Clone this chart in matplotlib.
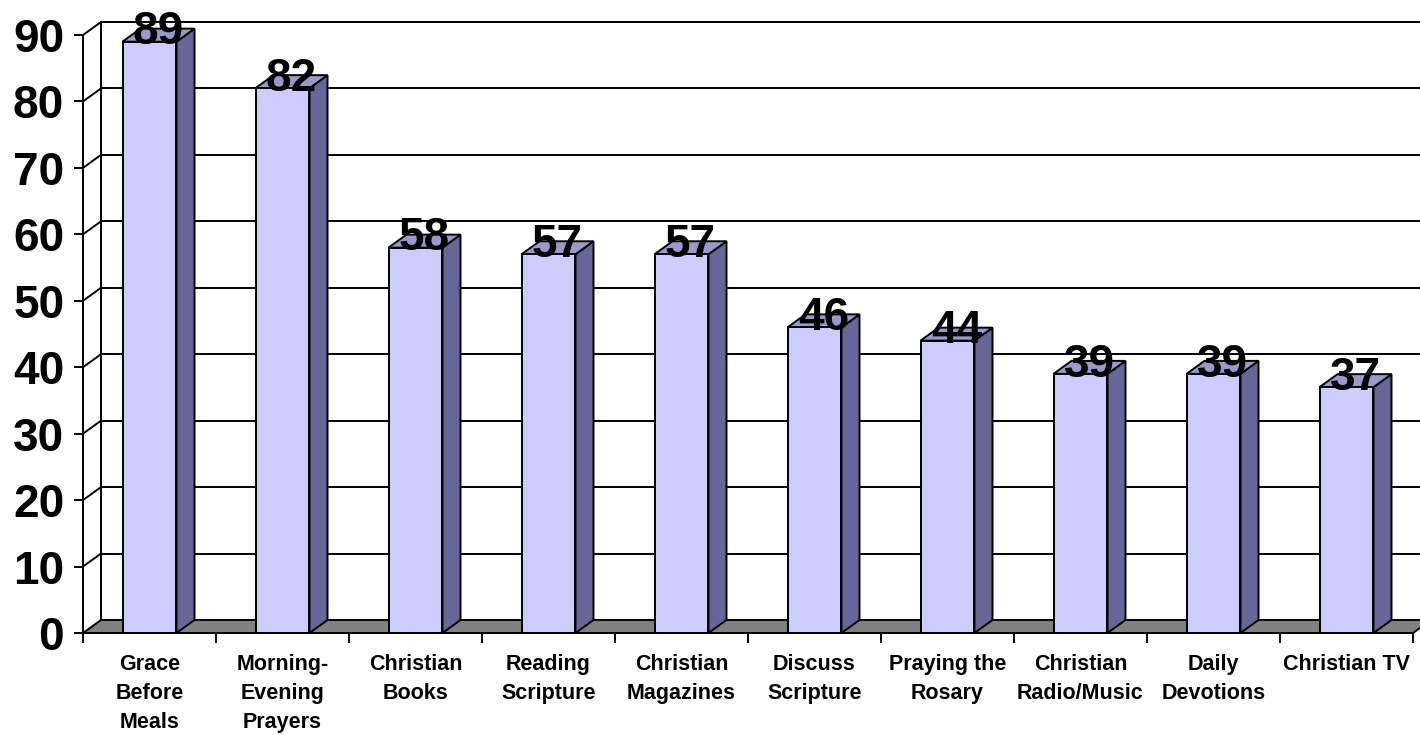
import matplotlib
matplotlib.use("Agg")
import matplotlib.pyplot as plt
from matplotlib.patches import Polygon

plt.rcParams['font.family'] = ['Liberation Sans', 'DejaVu Sans']

categories = [
    "Grace\nBefore\nMeals", "Morning-\nEvening\nPrayers", "Christian\nBooks",
    "Reading\nScripture", "Christian\nMagazines", "Discuss\nScripture",
    "Praying the\nRosary", "Christian\nRadio/Music", "Daily\nDevotions",
    "Christian TV",
]
values = [89, 82, 58, 57, 57, 46, 44, 39, 39, 37]
y_ticks = [0, 10, 20, 30, 40, 50, 60, 70, 80, 90]

FRONT = '#CCCCFF'
SIDE = '#666699'
TOP = '#9999CC'
FLOOR = '#808080'
LW = 1.4

W, H = 1420, 735
fig = plt.figure(figsize=(W / 100, H / 100), dpi=100)
ax = fig.add_axes([83 / W, (H - 633) / H, 1330 / W, 598 / H])
ax.set_xlim(0, len(categories))
ax.set_ylim(0, 90)

# 3D depth offset in data units (18 px right, 13 px up)
dx = 18 / 133
dy = 13 / (598 / 90)
bw = 0.406

n = len(categories)

# back wall + side wall
ax.add_patch(Polygon([(dx, dy), (n + dx, dy), (n + dx, 90 + dy), (dx, 90 + dy)],
                     closed=True, facecolor='white', edgecolor='black', lw=LW,
                     clip_on=False, zorder=1))
for v in y_ticks[1:]:
    ax.plot([dx, n + dx], [v + dy, v + dy], color='black', lw=LW, clip_on=False, zorder=2)
    ax.plot([0, dx], [v, v + dy], color='black', lw=LW, clip_on=False, zorder=2)

# floor
ax.add_patch(Polygon([(0, 0), (n, 0), (n + dx, dy), (dx, dy)], closed=True,
                     facecolor=FLOOR, edgecolor='black', lw=LW, clip_on=False, zorder=3))

# bars
for i, v in enumerate(values):
    x0 = i + 0.5 - bw / 2
    x1 = x0 + bw
    ax.add_patch(Polygon([(x1, 0), (x1 + dx, dy), (x1 + dx, v + dy), (x1, v)],
                         closed=True, facecolor=SIDE, edgecolor='black', lw=LW,
                         clip_on=False, zorder=4))
    ax.add_patch(Polygon([(x0, v), (x1, v), (x1 + dx, v + dy), (x0 + dx, v + dy)],
                         closed=True, facecolor=TOP, edgecolor='black', lw=LW,
                         clip_on=False, zorder=4))
    ax.add_patch(Polygon([(x0, 0), (x1, 0), (x1, v), (x0, v)], closed=True,
                         facecolor=FRONT, edgecolor='black', lw=LW,
                         clip_on=False, zorder=5))
    ax.text(i + 0.5 + dx / 2, v - 0.4, str(v), ha='center', va='baseline',
            fontsize=33, fontweight='bold', zorder=6)

# axes styling
for s in ['top', 'right']:
    ax.spines[s].set_visible(False)
for s in ['left', 'bottom']:
    ax.spines[s].set_linewidth(LW)
    ax.spines[s].set_zorder(7)
ax.set_yticks(y_ticks)
ax.set_yticklabels([str(t) for t in y_ticks], fontsize=33, fontweight='bold')
ax.tick_params(axis='y', length=6.5, width=LW, pad=7)
ax.set_xticks(range(n + 1))
ax.set_xticklabels([])
ax.set_xticks([i + 0.5 for i in range(n)], minor=True)
ax.set_xticklabels(categories, minor=True, fontsize=15.5, fontweight='bold',
                   linespacing=1.5)
ax.tick_params(axis='x', which='major', length=7, width=LW)
ax.tick_params(axis='x', which='minor', length=0, pad=15)
ax.patch.set_visible(False)

fig.savefig('out.png', dpi=100)
